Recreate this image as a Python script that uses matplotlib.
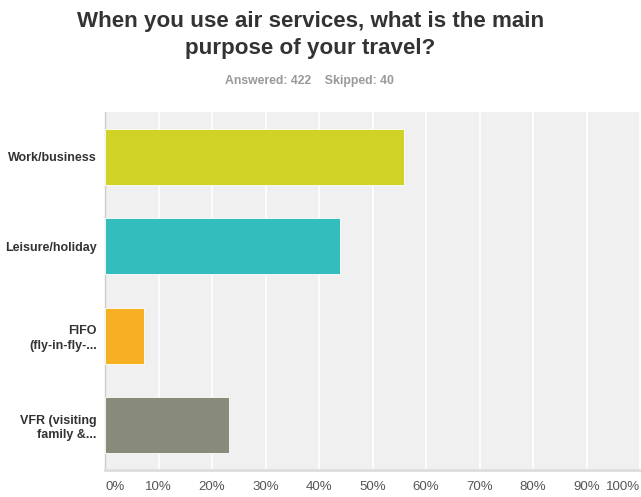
import matplotlib.pyplot as plt
import numpy as np

plt.rcParams['font.family'] = ['Liberation Sans', 'DejaVu Sans']

TITLE = 'When you use air services, what is the main\npurpose of your travel?'
ANSWERED, SKIPPED = 422, 40

categories = ['Work/business', 'Leisure/holiday', 'FIFO\n(fly-in-fly-...', 'VFR (visiting\nfamily &...']
percents = [55.92, 43.84, 7.35, 23.22]
colors = ['#d0d326', '#33bdbd', '#f7b023', '#888a7a']
ticks = np.arange(0, 101, 10)
tick_labels = [f'{t}%' for t in ticks]


def draw_chart():
    fig = plt.figure(figsize=(6.41, 4.97), dpi=100)
    ax = fig.add_axes([105 / 641, 1 - 470 / 497, 535 / 641, 358 / 497])
    ax.set_facecolor('#f0f0f0')

    y = np.arange(len(categories))
    ax.barh(y, percents, height=0.625, color=colors, edgecolor='#ffffff',
            linewidth=0.6, zorder=3)

    ax.set_xlim(0, 100)
    ax.set_ylim(len(categories) - 0.5, -0.5)
    ax.set_xticks(ticks)
    ax.set_xticklabels(tick_labels)
    ax.grid(axis='x', color='white', linewidth=1.2, zorder=1)
    ax.tick_params(axis='x', length=0, pad=8, labelsize=9.5, labelcolor='#555555')
    ax.tick_params(axis='y', length=0, pad=6)
    labels = ax.get_xticklabels()
    labels[0].set_horizontalalignment('left')
    labels[-1].set_horizontalalignment('right')

    ax.set_yticks(y)
    ax.set_yticklabels(categories, fontsize=9, fontweight='bold', color='#333333',
                       multialignment='right', linespacing=1.25)

    for side in ['top', 'right']:
        ax.spines[side].set_visible(False)
    ax.spines['left'].set_color('#cccccc')
    ax.spines['left'].set_linewidth(1)
    ax.spines['bottom'].set_color('#dddddd')
    ax.spines['bottom'].set_linewidth(2)

    fig.text(0.484, 1 - 35 / 497, TITLE, ha='center', va='center', fontsize=16.1,
             fontweight='bold', color='#333333', linespacing=1.32)
    fig.text(0.482, 1 - 81 / 497, f'Answered: {ANSWERED}    Skipped: {SKIPPED}',
             ha='center', va='center', fontsize=8.8, fontweight='bold', color='#999999')

    fig.savefig('out.png', dpi=100, facecolor='white')


if __name__ == '__main__':
    draw_chart()
